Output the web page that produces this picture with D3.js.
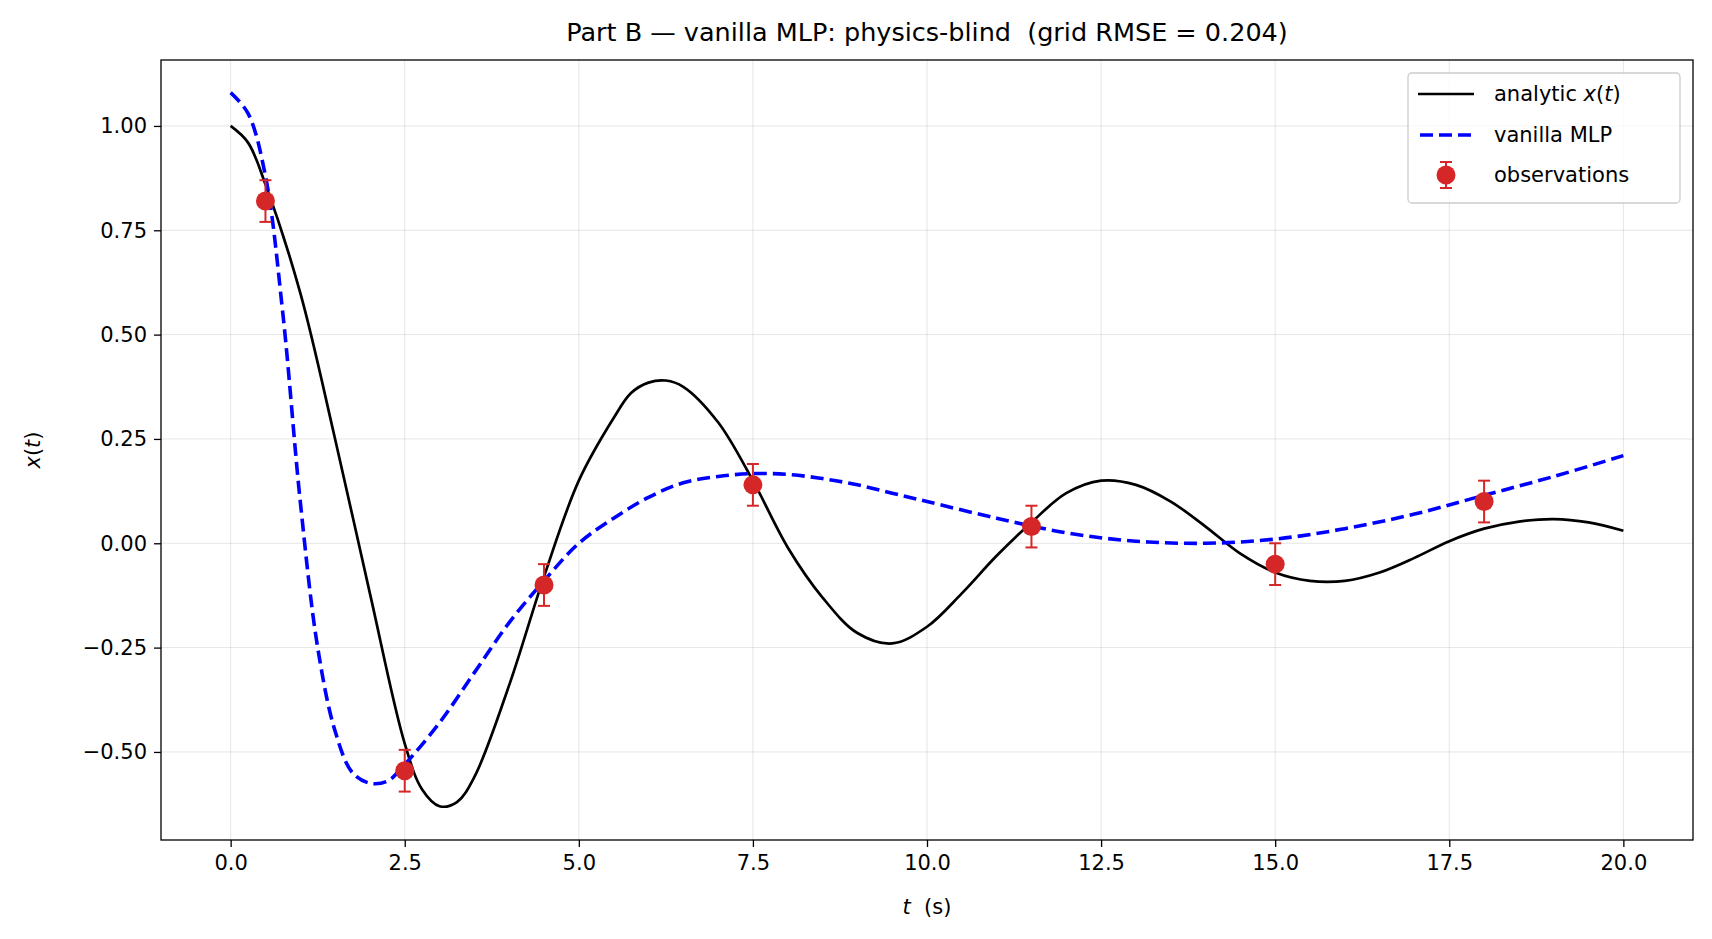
<!DOCTYPE html>
<html lang="en">
<head>
<meta charset="UTF-8" />
<title>Part B</title>
<style>
  html, body { margin: 0; background: #fff; }
  svg text { font-family: "DejaVu Sans", sans-serif; fill: #000; }
  .grid line { stroke: #000; stroke-opacity: 0.1; }
  .axis path, .axis line { stroke: #000; stroke-width: 1.3px; }
  .axis text { font-size: 21px; }
</style>
</head>
<body>
<svg id="chart" width="1712" height="939"></svg>
<script src="https://cdn.jsdelivr.net/npm/d3@7"></script>
<script>
const analyticT = [0,0.25,0.5,1,1.5,2,2.5,2.75,3,3.25,3.5,4,4.5,5,5.5,5.75,6,6.25,6.5,7,7.5,8,8.5,9,9.5,10,10.5,11,11.5,12,12.5,13,13.5,14,14.5,15,15.5,16,16.5,17,17.5,18,18.5,19,19.5,20];
const analyticX = [1.0,0.96,0.86,0.6,0.25,-0.12,-0.48,-0.59,-0.63,-0.62,-0.56,-0.34,-0.08,0.15,0.30,0.36,0.385,0.39,0.375,0.29,0.15,-0.01,-0.13,-0.215,-0.24,-0.2,-0.12,-0.03,0.05,0.12,0.15,0.14,0.1,0.04,-0.025,-0.07,-0.09,-0.09,-0.07,-0.035,0.005,0.035,0.052,0.058,0.05,0.03];
const mlpT = [0,0.25,0.5,0.75,1,1.25,1.5,1.75,2,2.25,2.5,3,3.5,4,4.5,5,5.5,6,6.5,7,7.5,8,8.5,9,9.5,10,11,12,13,14,15,16,17,18,19,20];
const mlpX = [1.08,1.03,0.88,0.55,0.1,-0.25,-0.45,-0.55,-0.575,-0.57,-0.53,-0.43,-0.31,-0.19,-0.09,0.0,0.06,0.11,0.145,0.16,0.167,0.165,0.155,0.14,0.12,0.1,0.06,0.025,0.005,0.0,0.01,0.035,0.07,0.115,0.16,0.21];
const obsT = [0.5,2.5,4.5,7.5,11.5,15,18];
const obsX = [0.82,-0.545,-0.10,0.14,0.04,-0.05,0.10];
const obsErr = 0.05;
const xTicks = [0,2.5,5,7.5,10,12.5,15,17.5,20];
const yTicks = [-0.5,-0.25,0,0.25,0.5,0.75,1.0];

const L = 161, R = 1693, T = 60, B = 840;
const svg = d3.select("#chart");
const x = d3.scaleLinear().domain([-1, 21]).range([L, R]);
const y = d3.scaleLinear().domain([-0.711, 1.158]).range([B, T]);
const fmtY = v => (v < 0 ? "\u2212" : "") + Math.abs(v).toFixed(2);

svg.append("g").attr("class", "grid")
  .selectAll("line.v").data(xTicks).join("line")
  .attr("x1", d => x(d)).attr("x2", d => x(d)).attr("y1", T).attr("y2", B);
svg.append("g").attr("class", "grid")
  .selectAll("line.h").data(yTicks).join("line")
  .attr("y1", d => y(d)).attr("y2", d => y(d)).attr("x1", L).attr("x2", R);

svg.append("g").attr("class", "axis").attr("transform", `translate(0,${B})`)
  .call(d3.axisBottom(x).tickValues(xTicks).tickFormat(d3.format(".1f")).tickSize(7).tickPadding(8))
  .call(g => g.select(".domain").remove());
svg.append("g").attr("class", "axis").attr("transform", `translate(${L},0)`)
  .call(d3.axisLeft(y).tickValues(yTicks).tickFormat(fmtY).tickSize(7).tickPadding(7))
  .call(g => g.select(".domain").remove());

const line = d3.line().curve(d3.curveCatmullRom.alpha(0.5)).x(d => x(d[0])).y(d => y(d[1]));
svg.append("clipPath").attr("id", "clip").append("rect")
  .attr("x", L).attr("y", T).attr("width", R - L).attr("height", B - T);

svg.append("path").attr("clip-path", "url(#clip)")
  .datum(d3.zip(analyticT, analyticX)).attr("d", line)
  .attr("fill", "none").attr("stroke", "#000").attr("stroke-width", 2.7);
svg.append("path").attr("clip-path", "url(#clip)")
  .datum(d3.zip(mlpT, mlpX)).attr("d", line)
  .attr("fill", "none").attr("stroke", "#0000ff").attr("stroke-width", 3.6)
  .attr("stroke-dasharray", "13,6");

const red = "#d62728";
const obs = svg.append("g").selectAll("g").data(d3.zip(obsT, obsX)).join("g");
obs.append("line").attr("x1", d => x(d[0])).attr("x2", d => x(d[0]))
  .attr("y1", d => y(d[1] - obsErr)).attr("y2", d => y(d[1] + obsErr))
  .attr("stroke", red).attr("stroke-width", 2);
[-1, 1].forEach(s => obs.append("line")
  .attr("x1", d => x(d[0]) - 6).attr("x2", d => x(d[0]) + 6)
  .attr("y1", d => y(d[1] + s * obsErr)).attr("y2", d => y(d[1] + s * obsErr))
  .attr("stroke", red).attr("stroke-width", 2));
obs.append("circle").attr("cx", d => x(d[0])).attr("cy", d => y(d[1])).attr("r", 9.5).attr("fill", red);

svg.append("rect").attr("x", L).attr("y", T).attr("width", R - L).attr("height", B - T)
  .attr("fill", "none").attr("stroke", "#000").attr("stroke-width", 1.3);

svg.append("text").attr("x", (L + R) / 2).attr("y", 41).attr("text-anchor", "middle")
  .attr("font-size", 25.5).style("white-space", "pre")
  .text("Part B \u2014 vanilla MLP: physics-blind  (grid RMSE = 0.204)");
const xl = svg.append("text").attr("x", (L + R) / 2).attr("y", 914).attr("text-anchor", "middle")
  .attr("font-size", 21).style("white-space", "pre");
xl.append("tspan").attr("font-style", "italic").text("t");
xl.append("tspan").text("  (s)");
const yl = svg.append("text").attr("transform", `translate(40,${(T + B) / 2}) rotate(-90)`)
  .attr("text-anchor", "middle").attr("font-size", 21);
yl.append("tspan").attr("font-style", "italic").text("x");
yl.append("tspan").text("(");
yl.append("tspan").attr("font-style", "italic").text("t");
yl.append("tspan").text(")");

// legend
const lg = svg.append("g").attr("transform", "translate(1408,73)");
lg.append("rect").attr("width", 272).attr("height", 130).attr("rx", 4)
  .attr("fill", "#fff").attr("fill-opacity", 0.8).attr("stroke", "#ccc").attr("stroke-width", 1.3);
lg.append("line").attr("x1", 10).attr("x2", 66).attr("y1", 21).attr("y2", 21).attr("stroke", "#000").attr("stroke-width", 2.7);
lg.append("line").attr("x1", 12).attr("x2", 66).attr("y1", 62).attr("y2", 62).attr("stroke", "#0000ff")
  .attr("stroke-width", 3.6).attr("stroke-dasharray", "13,6");
lg.append("line").attr("x1", 38).attr("x2", 38).attr("y1", 89).attr("y2", 115).attr("stroke", red).attr("stroke-width", 2);
[89, 115].forEach(v => lg.append("line").attr("x1", 32).attr("x2", 44).attr("y1", v).attr("y2", v).attr("stroke", red).attr("stroke-width", 2));
lg.append("circle").attr("cx", 38).attr("cy", 102).attr("r", 9.5).attr("fill", red);
const t1 = lg.append("text").attr("x", 86).attr("y", 28).attr("font-size", 21);
t1.append("tspan").text("analytic ");
t1.append("tspan").attr("font-style", "italic").text("x");
t1.append("tspan").text("(");
t1.append("tspan").attr("font-style", "italic").text("t");
t1.append("tspan").text(")");
lg.append("text").attr("x", 86).attr("y", 69).attr("font-size", 21).text("vanilla MLP");
lg.append("text").attr("x", 86).attr("y", 109).attr("font-size", 21).text("observations");
</script>
</body>
</html>
